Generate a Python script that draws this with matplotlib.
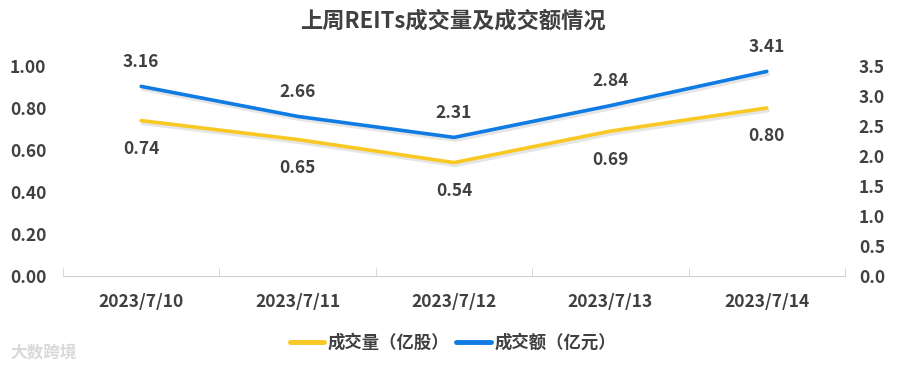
"""
上周REITs成交量及成交额情况 - dual axis line chart
"""

import matplotlib
matplotlib.use("Agg")
import matplotlib.pyplot as plt
import matplotlib.patheffects as pe
from matplotlib.lines import Line2D

plt.rcParams['font.family'] = ['Noto Sans CJK SC', 'DejaVu Sans']

dates = ["2023/7/10", "2023/7/11", "2023/7/12", "2023/7/13", "2023/7/14"]
volume = [0.74, 0.65, 0.54, 0.69, 0.80]      # 成交量（亿股）
amount = [3.16, 2.66, 2.31, 2.84, 3.41]      # 成交额（亿元）
left_ticks = [0.0, 0.2, 0.4, 0.6, 0.8, 1.0]
right_ticks = [0.0, 0.5, 1.0, 1.5, 2.0, 2.5, 3.0, 3.5]

txt = "#404040"
yellow = "#F9C823"
blue = "#0F7BE3"

fig = plt.figure(figsize=(9.05, 3.72), dpi=100)
ax = fig.add_axes([63/905, 1 - 276/372, (845-63)/905, (276-66)/372])
ax2 = ax.twinx()

x = list(range(len(dates)))
shadow = [pe.SimpleLineShadow(offset=(1.0, -2.0), shadow_color="gray", alpha=0.2), pe.Normal()]
ax.plot(x, volume, color=yellow, lw=2.6, solid_capstyle="round", path_effects=shadow)
ax2.plot(x, amount, color=blue, lw=2.6, solid_capstyle="round", path_effects=shadow)

ax.set_xlim(-0.5, len(dates) - 0.5)
ax.set_ylim(0, 1.0)
ax2.set_ylim(0, 3.5)
ax.set_yticks(left_ticks)
ax.set_yticklabels([f"{v:.2f}" for v in left_ticks])
ax2.set_yticks(right_ticks)
ax2.set_yticklabels([f"{v:.1f}" for v in right_ticks])
ax.set_xticks(x)
ax.set_xticklabels(dates)

# category separators on the x axis
ax.set_xticks([i - 0.5 for i in range(len(dates) + 1)], minor=True)
ax.tick_params(axis="x", which="minor", length=6, color="#d0d0d0", direction="in")
ax.tick_params(axis="x", which="major", length=0, pad=12)
ax.tick_params(axis="y", length=0, pad=12)
ax2.tick_params(axis="y", length=0, pad=10)

for a in (ax, ax2):
    for s in a.spines.values():
        s.set_visible(False)
    for lab in a.get_xticklabels() + a.get_yticklabels():
        lab.set_color(txt)
        lab.set_fontsize(12.5)
        lab.set_fontweight("bold")
ax.spines["bottom"].set_visible(True)
ax.spines["bottom"].set_color("#d0d0d0")

for i, v in enumerate(volume):
    ax.annotate(f"{v:.2f}", (i, v), xytext=(0, -14), textcoords="offset points",
                ha="center", va="top", fontsize=12.5, fontweight="bold", color=txt)
for i, v in enumerate(amount):
    ax2.annotate(f"{v:.2f}", (i, v), xytext=(0, 11), textcoords="offset points",
                 ha="center", va="bottom", fontsize=12.5, fontweight="bold", color=txt)

fig.text(0.5, 1 - 21/372, "上周REITs成交量及成交额情况", ha="center", va="center",
         fontsize=16, fontweight="bold", color=txt)

handles = [Line2D([], [], color=yellow, lw=3.5, solid_capstyle="round"),
           Line2D([], [], color=blue, lw=3.5, solid_capstyle="round")]
fig.legend(handles=handles, labels=["成交量（亿股）", "成交额（亿元）"], loc="center",
           bbox_to_anchor=(453/905, 1 - 343/372), ncol=2, frameon=False,
           handlelength=2.0, columnspacing=0.4, handletextpad=0.2,
           prop={"size": 12.5, "weight": "bold"}, labelcolor=txt)

fig.text(10/905, 1 - 352/372, "大数跨境", ha="left", va="center", fontsize=12,
         color="#d9d9d9", fontweight="bold")

fig.savefig("out.png", dpi=100)
